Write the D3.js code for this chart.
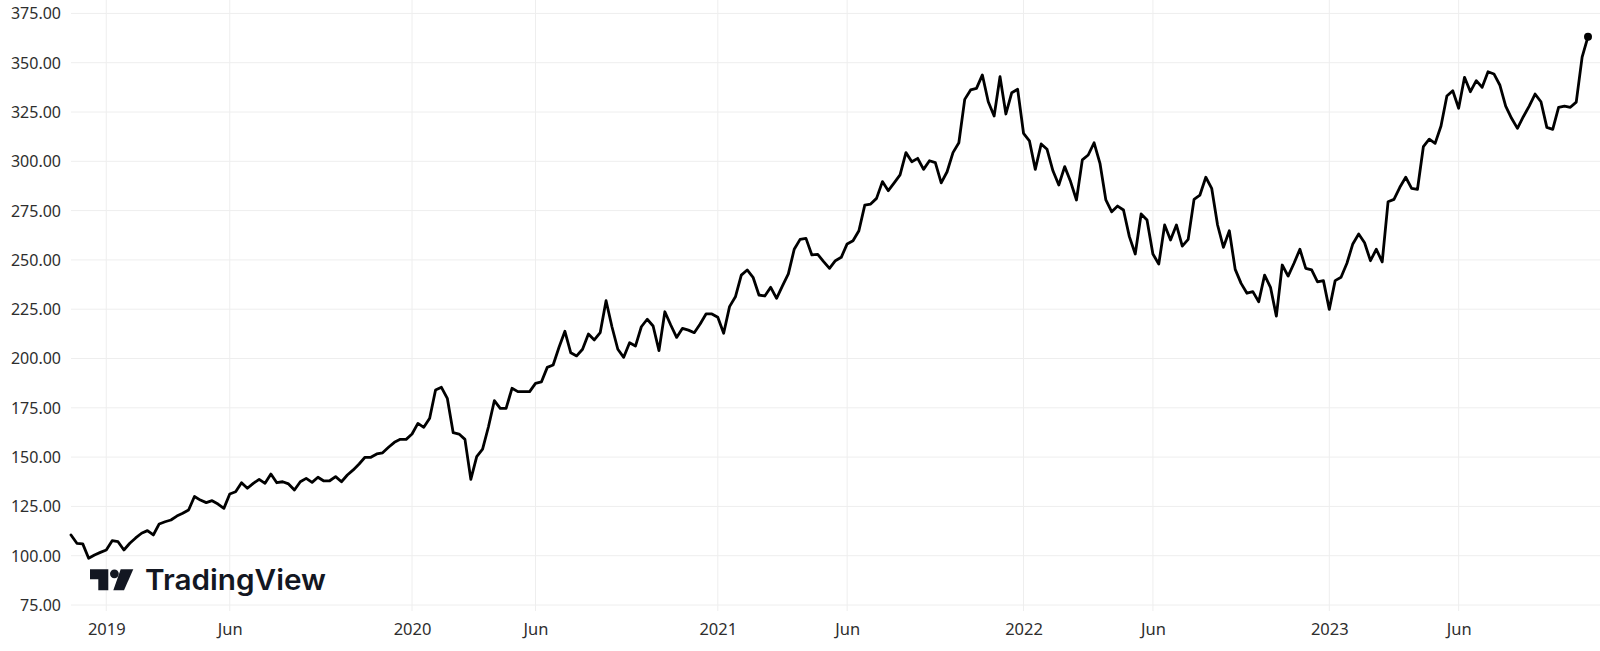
<!DOCTYPE html>
<html>
<head>
<meta charset="utf-8">
<script src="https://cdn.jsdelivr.net/npm/d3@7"></script>
<style>
  html, body { margin: 0; padding: 0; background: #ffffff; }
  svg { display: block; }
</style>
</head>
<body>
<svg id="chart" width="1600" height="651"></svg>
<script>
// ---- Data: weekly closes, first bar week of 2018-11-26 ----
const startWeek = "2018-11-26";
const closes = [
  110.5,106.3,106,98.7,100.4,101.7,102.9,107.6,107.1,102.9,106.3,109,111.4,112.7,110.5,116.1,117.2,118.1,120.1,121.5,123.2,130,128.2,126.9,127.9,126.2,124,131.3,132.4,137,134.2,136.7,138.7,
  136.7,141.4,137,137.5,136.4,133.3,137.5,139.2,137.2,139.8,137.9,138.0,140.1,137.5,140.9,143.5,146.5,149.9,149.9,151.6,152.2,155,157.5,159,159,161.7,167.1,165.1,169.7,184,185.4,179.8,
  162.4,161.7,159,138.7,150.2,154,165.4,178.6,174.7,174.7,184.9,183.2,183.2,183.2,187.4,188.1,195.5,196.7,205.7,213.8,202.9,201.3,204.7,212.4,209.4,213.1,229.3,216.1,204.7,200.6,208,206.3,
  216.1,219.9,216.5,204,223.7,217,210.7,215.3,214.4,213.1,217.5,222.6,222.6,220.9,212.8,226.3,231.3,242.3,244.9,241.2,232.2,231.7,236.1,230.5,236.8,242.9,255.4,260.4,260.9,252.5,252.8,249.1,245.7,
  249.6,251.3,258.1,259.7,264.8,277.8,278.3,281.2,289.7,285.1,289.1,293.1,304.4,299.8,301.5,295.9,300.3,299.3,289.1,294.7,304.4,309.4,331.4,336.2,337,343.8,330.2,323,342.9,324,334.8,336.5,
  314.2,310.4,295.9,308.8,306.1,295.2,288,297.3,289.7,280.4,300.7,303.2,309.4,299,280.4,274.4,277.3,275.3,261.8,253,273.3,270.2,253,247.9,267.7,260.1,267.7,257,260.4,280.7,282.9,
  291.9,286.3,267.7,256.4,264.8,245.2,238.1,233.1,233.9,228.8,242.3,236.1,221.5,247.4,241.8,248.3,255.4,245.7,244.9,238.9,239.5,224.9,239.5,241.2,248.3,258.1,263.1,258.7,249.6,255.4,249,
  279.5,280.7,286.8,291.9,286.3,285.8,307.4,311.2,309.1,317.9,333.1,335.8,326.9,342.6,335.3,340.9,337.5,345.4,344.3,338.7,328,321.8,316.7,322.6,328,334.1,330.2,317.2,316.2,327.4,328,327.4,
  330,352.8,363.2
];
const yTickValues = [75,100,125,150,175,200,225,250,275,300,325,350,375];
const xTickMonths = ["2019-01","2019-06","2020-01","2020-06","2021-01","2021-06","2022-01","2022-06","2023-01","2023-06"];
const xTickLabels = ["2019","Jun","2020","Jun","2021","Jun","2022","Jun","2023","Jun"];

// ---- Build series ----
const parse = d3.utcParse("%Y-%m-%d");
const t0 = parse(startWeek);
const series = closes.map((v, i) => ({ date: d3.utcDay.offset(t0, 7 * i), value: v }));
const monthKey = d3.utcFormat("%Y-%m");
const xTickDates = xTickMonths.map(m => series.find(d => monthKey(d.date) === m).date);

// ---- Layout ----
const plotLeft = 71, plotRight = 1600, plotBottom = 611;
const svg = d3.select("#chart");

const x = d3.scaleTime()
  .domain([series[0].date, series[series.length - 1].date])
  .range([71, 1588]);
const y = d3.scaleLinear().domain([75, 375]).range([605, 13.4]);

// Gridlines
const grid = svg.append("g").attr("class", "grid");
grid.selectAll("line.h").data(yTickValues).join("line")
  .attr("class", "h")
  .attr("x1", plotLeft).attr("x2", plotRight)
  .attr("y1", d => y(d)).attr("y2", d => y(d))
  .attr("stroke", "#eeeeee").attr("stroke-width", 1);
grid.selectAll("line.v").data(xTickDates).join("line")
  .attr("class", "v")
  .attr("x1", d => x(d)).attr("x2", d => x(d))
  .attr("y1", 0).attr("y2", plotBottom)
  .attr("stroke", "#eeeeee").attr("stroke-width", 1);

// Y axis (labels only)
const yAxis = d3.axisLeft(y).tickValues(yTickValues).tickSize(0).tickPadding(0)
  .tickFormat(d3.format(".2f"));
const yg = svg.append("g").attr("transform", "translate(61,0)").call(yAxis);
yg.select(".domain").remove();
yg.selectAll("text")
  .attr("font-family", "'Noto Sans', 'Open Sans', sans-serif")
  .attr("font-size", 16).attr("fill", "#2e2e2e").attr("dy", "0.34em");

// X axis (labels only)
const xAxis = d3.axisBottom(x).tickValues(xTickDates).tickSize(0).tickPadding(0)
  .tickFormat((d, i) => xTickLabels[i]);
const xg = svg.append("g").attr("transform", "translate(0,627)").call(xAxis);
xg.select(".domain").remove();
xg.selectAll("text")
  .attr("font-family", "'Noto Sans', 'Open Sans', sans-serif")
  .attr("font-size", 16.5).attr("fill", "#2e2e2e").attr("dy", "0.5em");

// TradingView watermark
const logo = svg.append("g").attr("fill", "#131722");
logo.append("path").attr("d", "M90,569.3 H108.3 V590.3 H98.3 V579.3 H90 Z");
logo.append("circle").attr("cx", 114.4).attr("cy", 573.8).attr("r", 4.4);
logo.append("path").attr("d", "M120.7,569.3 H133.3 L124,590.3 H113.3 Z");
logo.append("text").attr("x", 145).attr("y", 590.3)
  .attr("font-family", "Inter, 'Noto Sans', sans-serif")
  .attr("font-weight", 600).attr("font-size", 28.5)
  .attr("textLength", 181).attr("lengthAdjust", "spacingAndGlyphs")
  .text("TradingView");

// Line
const line = d3.line().x(d => x(d.date)).y(d => y(d.value));
svg.append("path").datum(series)
  .attr("d", line)
  .attr("fill", "none").attr("stroke", "#000000")
  .attr("stroke-width", 2.8).attr("stroke-linejoin", "round").attr("stroke-linecap", "round");

// Last point marker
const last = series[series.length - 1];
svg.append("circle").attr("cx", x(last.date)).attr("cy", y(last.value)).attr("r", 4).attr("fill", "#000000");
</script>
</body>
</html>
